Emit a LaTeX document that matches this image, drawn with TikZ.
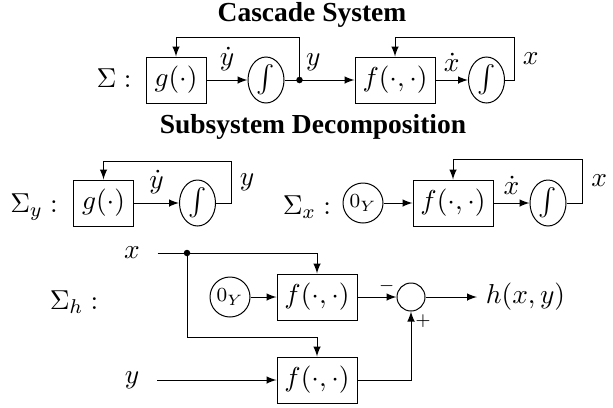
\documentclass[tikz,border=0pt]{standalone}
\usepackage{amsmath}
\usepackage[no-math]{fontspec}
\setmainfont{Liberation Serif}
\usepackage{tikz}
\usetikzlibrary{positioning,shapes.geometric}

\begin{document}
\begin{tikzpicture}[>=latex,x=0.4pt,y=-0.4pt,node distance=6pt,
    font=\fontsize{11}{13}\selectfont]
  \tikzstyle{blk}=[draw,minimum height=18.4pt,minimum width=32pt,inner sep=2pt]
  \tikzstyle{integ}=[draw,ellipse,minimum width=14.4pt,minimum height=18.4pt,inner sep=0pt]
  \tikzstyle{zero}=[draw,circle,minimum size=16pt,inner sep=0pt,font=\footnotesize]
  \tikzstyle{sumj}=[draw,circle,minimum size=11.2pt,inner sep=0pt]
  \tikzstyle{ttl}=[font=\fontsize{11}{13}\selectfont\bfseries]
  \tikzstyle{sgn}=[font=\scriptsize,inner sep=1.5pt]
  \useasboundingbox (0,0) rectangle (613,407);

  % cascade
  \node[ttl] (t1) at (312,15) {Cascade System};
  \node (S) at (114,78) {$\Sigma :$};
  \node[blk,minimum width=24pt] (g) at (176,80) {$g(\cdot)$};
  \node[integ,right=16.4pt of g] (i1) {$\int$};
  \coordinate[right=6pt of i1] (d1);
  \node[blk,right=22pt of d1] (f) {$f(\cdot,\cdot)$};
  \node[integ,right=13pt of f] (i2) {$\int$};
  \coordinate[right=3.6pt of i2] (e2);
  \draw[->] (g) -- node[above] {$\dot y$} (i1);
  \draw (i1) -- (d1);
  \fill (d1) circle (1.3pt);
  \draw[->] (d1) -- node[pos=0.25,above] {$y$} (f);
  \draw[->] (d1) -- ++(0,-43) -| (g);
  \draw[->] (f) -- node[above] {$\dot x$} (i2);
  \draw[->] (i2) -- (e2) -- node[right] {$x$} ++(0,-43) -| (f);

  % decomposition
  \node[ttl] (t2) at (313,127) {Subsystem Decomposition};
  \node (Sy) at (34,207) {$\Sigma_y :$};
  \node[blk,minimum width=24pt] (gy) at (103.5,203) {$g(\cdot)$};
  \node[integ,right=18pt of gy] (iy) {$\int$};
  \coordinate[right=6pt of iy] (ey);
  \draw[->] (gy) -- node[above] {$\dot y$} (iy);
  \draw[->] (iy) -- (ey) -- node[right] {$y$} ++(0,-42) -| (gy);

  \node (Sx) at (307,207) {$\Sigma_x :$};
  \node[zero] (zx) at (363,203) {$0_Y$};
  \node[blk,right=11.6pt of zx] (fx) {$f(\cdot,\cdot)$};
  \node[integ,right=14.4pt of fx] (ix) {$\int$};
  \coordinate[right=6.4pt of ix] (ex);
  \draw[->] (zx) -- (fx);
  \draw[->] (fx) -- node[above] {$\dot x$} (ix);
  \draw[->] (ix) -- (ex) -- node[right] {$x$} ++(0,-44) -| (fx);

  \node (Sh) at (74,302) {$\Sigma_h :$};
  \node (hx) at (132,253) {$x$};
  \node (hy) at (132,380) {$y$};
  \node[zero] (z1) at (230,297) {$0_Y$};
  \node[blk] (f1) at (317,297) {$f(\cdot,\cdot)$};
  \node[blk] (f2) at (317,380) {$f(\cdot,\cdot)$};
  \node[sumj] (sum) at (411,297) {};
  \node[anchor=west] (h) at (477,297) {$h(x,y)$};
  \coordinate (b) at (187,253);
  \draw[->,shorten <=3.6pt] (hx) -| (f1);
  \fill (b) circle (1.3pt);
  \draw[->] (b) -- ++(0,84) -| (f2);
  \draw[->,shorten <=3.6pt] (hy) -- (f2);
  \draw[->] (z1) -- (f1);
  \draw[->] (f1) -- node[sgn,pos=0.75,above] {$-$} (sum);
  \draw[->] (f2) -| node[sgn,pos=0.93,right] {$+$} (sum);
  \draw[->] (sum) -- (h);
\end{tikzpicture}
\end{document}
